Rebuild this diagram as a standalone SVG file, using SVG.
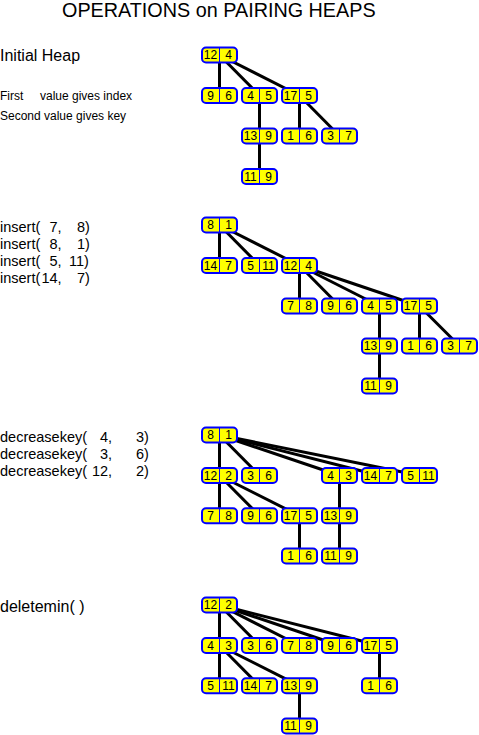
<svg xmlns="http://www.w3.org/2000/svg" width="479" height="735" viewBox="0 0 479 735">
<style>
text{font-family:"Liberation Sans",Arial,Helvetica,sans-serif;fill:#000}
.title{font-size:19.8px}
.op{font-size:14.5px}
.op16{font-size:16px}
.small{font-size:12px}
.node rect{fill:#ffff00;stroke:#0000ff;stroke-width:2}
.node line{stroke:#0000ff;stroke-width:1}
.node text{font-size:12px;text-anchor:middle}
.edges line{stroke:#000;stroke-width:3}
</style>
<rect width="479" height="735" fill="#fff"/>
<g id="labels">
<text class="title" x="62" y="17">OPERATIONS on PAIRING HEAPS</text>
<text class="op16" x="0" y="61">Initial Heap</text>
<text class="small" y="100"><tspan x="0">First</tspan> <tspan x="40">value gives index</tspan></text>
<text class="small" x="0" y="120">Second value gives key</text>
<text class="op" y="232"><tspan x="0">insert(</tspan> <tspan x="49.4">7,</tspan> <tspan x="76.9">8)</tspan></text>
<text class="op" y="249"><tspan x="0">insert(</tspan> <tspan x="49.4">8,</tspan> <tspan x="76.9">1)</tspan></text>
<text class="op" y="266"><tspan x="0">insert(</tspan> <tspan x="49.4">5,</tspan> <tspan x="68.9">11)</tspan></text>
<text class="op" y="283"><tspan x="0">insert(</tspan><tspan x="41.4">14,</tspan> <tspan x="76.9">7)</tspan></text>
<text class="op" y="442"><tspan x="0">decreasekey(</tspan> <tspan x="99.9">4,</tspan> <tspan x="135.9">3)</tspan></text>
<text class="op" y="459"><tspan x="0">decreasekey(</tspan> <tspan x="99.9">3,</tspan> <tspan x="135.9">6)</tspan></text>
<text class="op" y="476"><tspan x="0">decreasekey(</tspan> <tspan x="91.9">12,</tspan> <tspan x="135.9">2)</tspan></text>
<text class="op16" x="0" y="611.5">deletemin( )</text>
</g>
<g id="connectors" class="edges">
<!-- heap 1 -->
<line x1="219.5" y1="55" x2="219.5" y2="95.5"/>
<line x1="219.5" y1="55" x2="259.5" y2="95.5"/>
<line x1="219.5" y1="55" x2="299.5" y2="95.5"/>
<line x1="259.5" y1="95.5" x2="259.5" y2="136"/>
<line x1="259.5" y1="136" x2="259.5" y2="176.5"/>
<line x1="299.5" y1="95.5" x2="299.5" y2="136"/>
<line x1="299.5" y1="95.5" x2="339.5" y2="136"/>
<!-- heap 2 -->
<line x1="219.5" y1="225" x2="219.5" y2="265.5"/>
<line x1="219.5" y1="225" x2="259.5" y2="265.5"/>
<line x1="219.5" y1="225" x2="299.5" y2="265.5"/>
<line x1="299.5" y1="265.5" x2="299.5" y2="306"/>
<line x1="299.5" y1="265.5" x2="339.5" y2="306"/>
<line x1="299.5" y1="265.5" x2="379.5" y2="306"/>
<line x1="299.5" y1="265.5" x2="419.5" y2="306"/>
<line x1="379.5" y1="306" x2="379.5" y2="346"/>
<line x1="379.5" y1="346" x2="379.5" y2="386"/>
<line x1="419.5" y1="306" x2="419.5" y2="346"/>
<line x1="419.5" y1="306" x2="459.5" y2="346"/>
<!-- heap 3 -->
<line x1="219.5" y1="435" x2="219.5" y2="475.5"/>
<line x1="219.5" y1="435" x2="259.5" y2="475.5"/>
<line x1="219.5" y1="435" x2="339.5" y2="475.5"/>
<line x1="219.5" y1="435" x2="379.5" y2="475.5"/>
<line x1="219.5" y1="435" x2="419.5" y2="475.5"/>
<line x1="219.5" y1="475.5" x2="219.5" y2="515.8"/>
<line x1="219.5" y1="475.5" x2="259.5" y2="515.8"/>
<line x1="219.5" y1="475.5" x2="299.5" y2="515.8"/>
<line x1="299.5" y1="515.8" x2="299.5" y2="556"/>
<line x1="339.5" y1="475.5" x2="339.5" y2="515.8"/>
<line x1="339.5" y1="515.8" x2="339.5" y2="556"/>
<!-- heap 4 -->
<line x1="219.5" y1="605" x2="219.5" y2="645.5"/>
<line x1="219.5" y1="605" x2="259.5" y2="645.5"/>
<line x1="219.5" y1="605" x2="299.5" y2="645.5"/>
<line x1="219.5" y1="605" x2="339.5" y2="645.5"/>
<line x1="219.5" y1="605" x2="379.5" y2="645.5"/>
<line x1="219.5" y1="645.5" x2="219.5" y2="685.8"/>
<line x1="219.5" y1="645.5" x2="259.5" y2="685.8"/>
<line x1="219.5" y1="645.5" x2="299.5" y2="685.8"/>
<line x1="299.5" y1="685.8" x2="299.5" y2="726"/>
<line x1="379.5" y1="645.5" x2="379.5" y2="685.8"/>
</g>
<!-- heap 1 nodes -->
<g id="h1-12-4" class="node" transform="translate(219.5,55)"><rect x="-17.5" y="-7.5" width="35" height="15" rx="4"/><line x1="0" y1="-7.5" x2="0" y2="7.5"/><text x="-9" y="4.3">12</text><text x="9" y="4.3">4</text></g>
<g id="h1-9-6" class="node" transform="translate(219.5,95.5)"><rect x="-17.5" y="-7.5" width="35" height="15" rx="4"/><line x1="0" y1="-7.5" x2="0" y2="7.5"/><text x="-9" y="4.3">9</text><text x="9" y="4.3">6</text></g>
<g id="h1-4-5" class="node" transform="translate(259.5,95.5)"><rect x="-17.5" y="-7.5" width="35" height="15" rx="4"/><line x1="0" y1="-7.5" x2="0" y2="7.5"/><text x="-9" y="4.3">4</text><text x="9" y="4.3">5</text></g>
<g id="h1-17-5" class="node" transform="translate(299.5,95.5)"><rect x="-17.5" y="-7.5" width="35" height="15" rx="4"/><line x1="0" y1="-7.5" x2="0" y2="7.5"/><text x="-9" y="4.3">17</text><text x="9" y="4.3">5</text></g>
<g id="h1-13-9" class="node" transform="translate(259.5,136)"><rect x="-17.5" y="-7.5" width="35" height="15" rx="4"/><line x1="0" y1="-7.5" x2="0" y2="7.5"/><text x="-9" y="4.3">13</text><text x="9" y="4.3">9</text></g>
<g id="h1-1-6" class="node" transform="translate(299.5,136)"><rect x="-17.5" y="-7.5" width="35" height="15" rx="4"/><line x1="0" y1="-7.5" x2="0" y2="7.5"/><text x="-9" y="4.3">1</text><text x="9" y="4.3">6</text></g>
<g id="h1-3-7" class="node" transform="translate(339.5,136)"><rect x="-17.5" y="-7.5" width="35" height="15" rx="4"/><line x1="0" y1="-7.5" x2="0" y2="7.5"/><text x="-9" y="4.3">3</text><text x="9" y="4.3">7</text></g>
<g id="h1-11-9" class="node" transform="translate(259.5,176.5)"><rect x="-17.5" y="-7.5" width="35" height="15" rx="4"/><line x1="0" y1="-7.5" x2="0" y2="7.5"/><text x="-9" y="4.3">11</text><text x="9" y="4.3">9</text></g>
<!-- heap 2 nodes -->
<g id="h2-8-1" class="node" transform="translate(219.5,225)"><rect x="-17.5" y="-7.5" width="35" height="15" rx="4"/><line x1="0" y1="-7.5" x2="0" y2="7.5"/><text x="-9" y="4.3">8</text><text x="9" y="4.3">1</text></g>
<g id="h2-14-7" class="node" transform="translate(219.5,265.5)"><rect x="-17.5" y="-7.5" width="35" height="15" rx="4"/><line x1="0" y1="-7.5" x2="0" y2="7.5"/><text x="-9" y="4.3">14</text><text x="9" y="4.3">7</text></g>
<g id="h2-5-11" class="node" transform="translate(259.5,265.5)"><rect x="-17.5" y="-7.5" width="35" height="15" rx="4"/><line x1="0" y1="-7.5" x2="0" y2="7.5"/><text x="-9" y="4.3">5</text><text x="9" y="4.3">11</text></g>
<g id="h2-12-4" class="node" transform="translate(299.5,265.5)"><rect x="-17.5" y="-7.5" width="35" height="15" rx="4"/><line x1="0" y1="-7.5" x2="0" y2="7.5"/><text x="-9" y="4.3">12</text><text x="9" y="4.3">4</text></g>
<g id="h2-7-8" class="node" transform="translate(299.5,306)"><rect x="-17.5" y="-7.5" width="35" height="15" rx="4"/><line x1="0" y1="-7.5" x2="0" y2="7.5"/><text x="-9" y="4.3">7</text><text x="9" y="4.3">8</text></g>
<g id="h2-9-6" class="node" transform="translate(339.5,306)"><rect x="-17.5" y="-7.5" width="35" height="15" rx="4"/><line x1="0" y1="-7.5" x2="0" y2="7.5"/><text x="-9" y="4.3">9</text><text x="9" y="4.3">6</text></g>
<g id="h2-4-5" class="node" transform="translate(379.5,306)"><rect x="-17.5" y="-7.5" width="35" height="15" rx="4"/><line x1="0" y1="-7.5" x2="0" y2="7.5"/><text x="-9" y="4.3">4</text><text x="9" y="4.3">5</text></g>
<g id="h2-17-5" class="node" transform="translate(419.5,306)"><rect x="-17.5" y="-7.5" width="35" height="15" rx="4"/><line x1="0" y1="-7.5" x2="0" y2="7.5"/><text x="-9" y="4.3">17</text><text x="9" y="4.3">5</text></g>
<g id="h2-13-9" class="node" transform="translate(379.5,346)"><rect x="-17.5" y="-7.5" width="35" height="15" rx="4"/><line x1="0" y1="-7.5" x2="0" y2="7.5"/><text x="-9" y="4.3">13</text><text x="9" y="4.3">9</text></g>
<g id="h2-1-6" class="node" transform="translate(419.5,346)"><rect x="-17.5" y="-7.5" width="35" height="15" rx="4"/><line x1="0" y1="-7.5" x2="0" y2="7.5"/><text x="-9" y="4.3">1</text><text x="9" y="4.3">6</text></g>
<g id="h2-3-7" class="node" transform="translate(459.5,346)"><rect x="-17.5" y="-7.5" width="35" height="15" rx="4"/><line x1="0" y1="-7.5" x2="0" y2="7.5"/><text x="-9" y="4.3">3</text><text x="9" y="4.3">7</text></g>
<g id="h2-11-9" class="node" transform="translate(379.5,386)"><rect x="-17.5" y="-7.5" width="35" height="15" rx="4"/><line x1="0" y1="-7.5" x2="0" y2="7.5"/><text x="-9" y="4.3">11</text><text x="9" y="4.3">9</text></g>
<!-- heap 3 nodes -->
<g id="h3-8-1" class="node" transform="translate(219.5,435)"><rect x="-17.5" y="-7.5" width="35" height="15" rx="4"/><line x1="0" y1="-7.5" x2="0" y2="7.5"/><text x="-9" y="4.3">8</text><text x="9" y="4.3">1</text></g>
<g id="h3-12-2" class="node" transform="translate(219.5,475.5)"><rect x="-17.5" y="-7.5" width="35" height="15" rx="4"/><line x1="0" y1="-7.5" x2="0" y2="7.5"/><text x="-9" y="4.3">12</text><text x="9" y="4.3">2</text></g>
<g id="h3-3-6" class="node" transform="translate(259.5,475.5)"><rect x="-17.5" y="-7.5" width="35" height="15" rx="4"/><line x1="0" y1="-7.5" x2="0" y2="7.5"/><text x="-9" y="4.3">3</text><text x="9" y="4.3">6</text></g>
<g id="h3-4-3" class="node" transform="translate(339.5,475.5)"><rect x="-17.5" y="-7.5" width="35" height="15" rx="4"/><line x1="0" y1="-7.5" x2="0" y2="7.5"/><text x="-9" y="4.3">4</text><text x="9" y="4.3">3</text></g>
<g id="h3-14-7" class="node" transform="translate(379.5,475.5)"><rect x="-17.5" y="-7.5" width="35" height="15" rx="4"/><line x1="0" y1="-7.5" x2="0" y2="7.5"/><text x="-9" y="4.3">14</text><text x="9" y="4.3">7</text></g>
<g id="h3-5-11" class="node" transform="translate(419.5,475.5)"><rect x="-17.5" y="-7.5" width="35" height="15" rx="4"/><line x1="0" y1="-7.5" x2="0" y2="7.5"/><text x="-9" y="4.3">5</text><text x="9" y="4.3">11</text></g>
<g id="h3-7-8" class="node" transform="translate(219.5,515.8)"><rect x="-17.5" y="-7.5" width="35" height="15" rx="4"/><line x1="0" y1="-7.5" x2="0" y2="7.5"/><text x="-9" y="4.3">7</text><text x="9" y="4.3">8</text></g>
<g id="h3-9-6" class="node" transform="translate(259.5,515.8)"><rect x="-17.5" y="-7.5" width="35" height="15" rx="4"/><line x1="0" y1="-7.5" x2="0" y2="7.5"/><text x="-9" y="4.3">9</text><text x="9" y="4.3">6</text></g>
<g id="h3-17-5" class="node" transform="translate(299.5,515.8)"><rect x="-17.5" y="-7.5" width="35" height="15" rx="4"/><line x1="0" y1="-7.5" x2="0" y2="7.5"/><text x="-9" y="4.3">17</text><text x="9" y="4.3">5</text></g>
<g id="h3-13-9" class="node" transform="translate(339.5,515.8)"><rect x="-17.5" y="-7.5" width="35" height="15" rx="4"/><line x1="0" y1="-7.5" x2="0" y2="7.5"/><text x="-9" y="4.3">13</text><text x="9" y="4.3">9</text></g>
<g id="h3-1-6" class="node" transform="translate(299.5,556)"><rect x="-17.5" y="-7.5" width="35" height="15" rx="4"/><line x1="0" y1="-7.5" x2="0" y2="7.5"/><text x="-9" y="4.3">1</text><text x="9" y="4.3">6</text></g>
<g id="h3-11-9" class="node" transform="translate(339.5,556)"><rect x="-17.5" y="-7.5" width="35" height="15" rx="4"/><line x1="0" y1="-7.5" x2="0" y2="7.5"/><text x="-9" y="4.3">11</text><text x="9" y="4.3">9</text></g>
<!-- heap 4 nodes -->
<g id="h4-12-2" class="node" transform="translate(219.5,605)"><rect x="-17.5" y="-7.5" width="35" height="15" rx="4"/><line x1="0" y1="-7.5" x2="0" y2="7.5"/><text x="-9" y="4.3">12</text><text x="9" y="4.3">2</text></g>
<g id="h4-4-3" class="node" transform="translate(219.5,645.5)"><rect x="-17.5" y="-7.5" width="35" height="15" rx="4"/><line x1="0" y1="-7.5" x2="0" y2="7.5"/><text x="-9" y="4.3">4</text><text x="9" y="4.3">3</text></g>
<g id="h4-3-6" class="node" transform="translate(259.5,645.5)"><rect x="-17.5" y="-7.5" width="35" height="15" rx="4"/><line x1="0" y1="-7.5" x2="0" y2="7.5"/><text x="-9" y="4.3">3</text><text x="9" y="4.3">6</text></g>
<g id="h4-7-8" class="node" transform="translate(299.5,645.5)"><rect x="-17.5" y="-7.5" width="35" height="15" rx="4"/><line x1="0" y1="-7.5" x2="0" y2="7.5"/><text x="-9" y="4.3">7</text><text x="9" y="4.3">8</text></g>
<g id="h4-9-6" class="node" transform="translate(339.5,645.5)"><rect x="-17.5" y="-7.5" width="35" height="15" rx="4"/><line x1="0" y1="-7.5" x2="0" y2="7.5"/><text x="-9" y="4.3">9</text><text x="9" y="4.3">6</text></g>
<g id="h4-17-5" class="node" transform="translate(379.5,645.5)"><rect x="-17.5" y="-7.5" width="35" height="15" rx="4"/><line x1="0" y1="-7.5" x2="0" y2="7.5"/><text x="-9" y="4.3">17</text><text x="9" y="4.3">5</text></g>
<g id="h4-5-11" class="node" transform="translate(219.5,685.8)"><rect x="-17.5" y="-7.5" width="35" height="15" rx="4"/><line x1="0" y1="-7.5" x2="0" y2="7.5"/><text x="-9" y="4.3">5</text><text x="9" y="4.3">11</text></g>
<g id="h4-14-7" class="node" transform="translate(259.5,685.8)"><rect x="-17.5" y="-7.5" width="35" height="15" rx="4"/><line x1="0" y1="-7.5" x2="0" y2="7.5"/><text x="-9" y="4.3">14</text><text x="9" y="4.3">7</text></g>
<g id="h4-13-9" class="node" transform="translate(299.5,685.8)"><rect x="-17.5" y="-7.5" width="35" height="15" rx="4"/><line x1="0" y1="-7.5" x2="0" y2="7.5"/><text x="-9" y="4.3">13</text><text x="9" y="4.3">9</text></g>
<g id="h4-1-6" class="node" transform="translate(379.5,685.8)"><rect x="-17.5" y="-7.5" width="35" height="15" rx="4"/><line x1="0" y1="-7.5" x2="0" y2="7.5"/><text x="-9" y="4.3">1</text><text x="9" y="4.3">6</text></g>
<g id="h4-11-9" class="node" transform="translate(299.5,726)"><rect x="-17.5" y="-7.5" width="35" height="15" rx="4"/><line x1="0" y1="-7.5" x2="0" y2="7.5"/><text x="-9" y="4.3">11</text><text x="9" y="4.3">9</text></g>
</svg>
